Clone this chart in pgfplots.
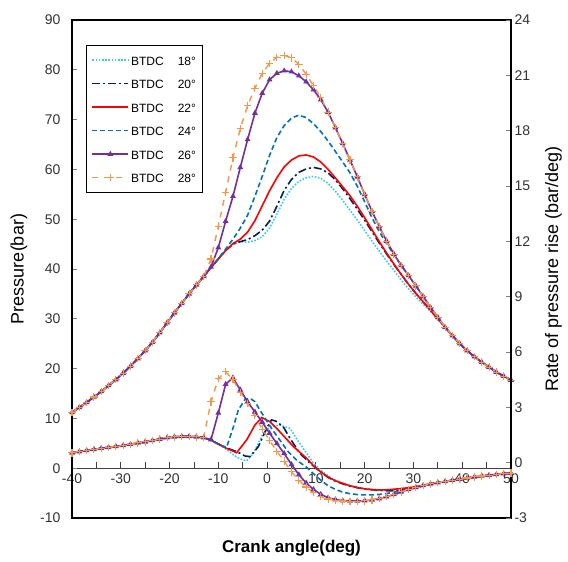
\documentclass[border=0pt]{standalone}
\usepackage{fontspec}
\setmainfont{Liberation Sans}
\usepackage{pgfplots}
\pgfplotsset{compat=1.18}
\definecolor{c18}{RGB}{60,200,245}
\definecolor{c20}{RGB}{0,32,96}
\definecolor{c22}{RGB}{255,0,0}
\definecolor{c24}{RGB}{0,112,192}
\definecolor{c26}{RGB}{112,48,160}
\definecolor{c28}{RGB}{247,150,70}
\newcommand{\legtxt}[1]{\rule[-5pt]{0pt}{17pt}BTDC\hspace{14pt}#1°}
\begin{document}
\begin{tikzpicture}
\pgfplotsset{base/.style={width=439pt,height=498pt,scale only axis,xmin=-40,xmax=50,
  /pgf/number format/assume math mode=true,
  tick label style={font=\fontsize{14}{16}\selectfont, text=black!80}},
  s18/.style={c18, line width=1.6pt, dash pattern=on 1.6pt off 1.6pt},
  s20/.style={c20, line width=1.6pt, dash pattern=on 8pt off 3pt on 2pt off 3pt},
  s22/.style={c22, line width=1.6pt, solid},
  s24/.style={c24, line width=1.6pt, dash pattern=on 5pt off 3pt},
  s26/.style={c26, line width=1.6pt, solid, mark=triangle*, mark size=1.8pt, mark options={solid, fill=c26}},
  s28/.style={c28, line width=1.4pt, dash pattern=on 6pt off 6pt, mark=+, mark size=3.7pt, mark options={solid, line width=1.1pt}},
}
% x axis line at y=0
\begin{axis}[base, ymin=-10, ymax=90, axis x line=middle, axis y line=none,
  xtick={-40,-35,...,50}, xticklabels={-40,,-30,,-20,,-10,,0,,10,,20,,30,,40,,50},
  tick align=inside, major tick length=6pt,
  axis line style={-, line width=0.8pt, black!75},
  xtick style={line width=0.8pt, black!75},
  xticklabel style={yshift=-2pt}]
\end{axis}
% pressure
\begin{axis}[base, name=ax, ymin=-10, ymax=90, ytick={-10,0,...,90}, xtick=\empty,
  ytick pos=left, tick align=inside, major tick length=5pt,
  yticklabel style={xshift=-8pt},
  axis line style={line width=1.6pt}, ytick style={line width=0.8pt},
  ylabel={Pressure(bar)}, xlabel={Crank angle(deg)},
  xlabel style={font=\bfseries\fontsize{17}{20}\selectfont},
  xlabel shift=19pt, ylabel shift=6pt,
  ylabel style={font=\fontsize{18}{20}\selectfont},
  legend style={at={(0.032,0.95)}, anchor=north west, draw=black, line width=1pt,
    font=\fontsize{12}{14}\selectfont, row sep=6pt, inner xsep=5pt, inner ysep=6pt},
  legend cell align=left,
  legend image code/.code={\draw[mark repeat=2,mark phase=2] plot coordinates {(0pt,0pt) (18pt,0pt) (36pt,0pt)};}]
\addplot[s18] coordinates {(-40,11.2) (-38.5,12.2) (-37,13.2) (-35.5,14.3) (-34,15.4) (-32.5,16.6) (-31,17.8) (-29.5,19.1) (-28,20.5) (-26.5,22.0) (-25,23.6) (-23.5,25.3) (-22,27.2) (-20.5,29.2) (-19,31.2) (-17.5,33.1) (-16,35.0) (-14.5,36.8) (-13,38.5)
 (-11.5,40.3) (-10,42.0) (-8.5,43.7) (-7,45.0) (-5.5,45.4) (-4,45.4) (-2.5,45.7) (-1,46.5) (0.5,48.2) (2,51.0) (3.5,54.0) (5,56.2) (6.5,57.6) (8,58.3) (9.5,58.6) (11,58.2) (12.5,57.2) (14,55.6) (15.5,53.8) (17,51.8) (18.5,49.8) (20,47.7) (21.5,45.6) (23,43.6) (24.5,41.6) (26,39.7) (27.5,37.8) (29,36.0) (30.5,34.4) (32,32.9) (33.5,31.5) (35,29.9) (36.5,28.2)
 (38,26.6) (39.5,25.0) (41,23.6) (42.5,22.4) (44,21.3) (45.5,20.3) (47,19.3) (48.5,18.5) (50,17.7)};
\addlegendentry{\legtxt{18}}
\addplot[s20] coordinates {(-40,11.2) (-38.5,12.2) (-37,13.2) (-35.5,14.3) (-34,15.4) (-32.5,16.6) (-31,17.8) (-29.5,19.1) (-28,20.5) (-26.5,22.0) (-25,23.6) (-23.5,25.3) (-22,27.2) (-20.5,29.2) (-19,31.2) (-17.5,33.1) (-16,35.0) (-14.5,36.8) (-13,38.5)
 (-11.5,40.3) (-10,42.0) (-8.5,43.7) (-7,45.0) (-5.5,45.5) (-4,45.9) (-2.5,46.7) (-1,47.8) (0.5,49.6) (2,52.6) (3.5,55.8) (5,58.0) (6.5,59.4) (8,60.1) (9.5,60.4) (11,60.1) (12.5,59.3) (14,57.9) (15.5,56.1) (17,54.1) (18.5,52.0) (20,49.8) (21.5,47.5) (23,45.2) (24.5,43.0) (26,40.9) (27.5,38.9) (29,36.9) (30.5,35.1) (32,33.4) (33.5,31.7) (35,30.0) (36.5,28.3)
 (38,26.6) (39.5,25.0) (41,23.6) (42.5,22.4) (44,21.3) (45.5,20.3) (47,19.3) (48.5,18.5) (50,17.7)};
\addlegendentry{\legtxt{20}}
\addplot[s22] coordinates {(-40,11.2) (-38.5,12.2) (-37,13.2) (-35.5,14.3) (-34,15.4) (-32.5,16.6) (-31,17.8) (-29.5,19.1) (-28,20.5) (-26.5,22.0) (-25,23.6) (-23.5,25.3) (-22,27.2) (-20.5,29.2) (-19,31.2) (-17.5,33.1) (-16,35.0) (-14.5,36.8) (-13,38.5)
 (-11.5,40.3) (-10,42.0) (-8.5,43.7) (-7,45.1) (-5.5,46.0) (-4,47.4) (-2.5,49.7) (-1,52.7) (0.5,55.7) (2,58.3) (3.5,60.5) (5,61.9) (6.5,62.7) (8,62.9) (9.5,62.5) (11,61.5) (12.5,60.0) (14,58.3) (15.5,56.5) (17,54.7) (18.5,52.6) (20,50.3) (21.5,47.9) (23,45.5) (24.5,43.2) (26,41.0) (27.5,38.9) (29,36.9) (30.5,35.1) (32,33.4) (33.5,31.7) (35,30.0) (36.5,28.3)
 (38,26.6) (39.5,25.0) (41,23.6) (42.5,22.4) (44,21.3) (45.5,20.3) (47,19.3) (48.5,18.5) (50,17.7)};
\addlegendentry{\legtxt{22}}
\addplot[s24] coordinates {(-40,11.2) (-38.5,12.2) (-37,13.2) (-35.5,14.3) (-34,15.4) (-32.5,16.6) (-31,17.8) (-29.5,19.1) (-28,20.5) (-26.5,22.0) (-25,23.6) (-23.5,25.3) (-22,27.2) (-20.5,29.2) (-19,31.2) (-17.5,33.1) (-16,35.0) (-14.5,36.8) (-13,38.5)
 (-11.5,40.3) (-10,42.1) (-8.5,44.0) (-7,46.0) (-5.5,48.2) (-4,50.8) (-2.5,54.6) (-1,58.6) (0.5,62.8) (2,66.4) (3.5,68.8) (5,70.3) (6.5,70.9) (8,70.4) (9.5,69.2) (11,67.6) (12.5,65.7) (14,63.6) (15.5,61.5) (17,59.3) (18.5,56.6) (20,53.5) (21.5,50.3) (23,47.5) (24.5,45.1) (26,42.9) (27.5,40.7)
 (29,38.7) (30.5,36.6) (32,34.5) (33.5,32.3) (35,30.3) (36.5,28.3) (38,26.6) (39.5,25.0) (41,23.6) (42.5,22.4) (44,21.3) (45.5,20.3) (47,19.3) (48.5,18.5) (50,17.7)};
\addlegendentry{\legtxt{24}}
\addplot[s26] coordinates {(-40,11.2) (-38.5,12.2) (-37,13.2) (-35.5,14.3) (-34,15.4) (-32.5,16.6) (-31,17.8) (-29.5,19.1) (-28,20.5) (-26.5,22.0) (-25,23.6) (-23.5,25.3) (-22,27.2) (-20.5,29.2) (-19,31.2) (-17.5,33.1) (-16,35.0) (-14.5,36.8) (-13,38.5)
 (-11.5,40.4) (-10,44.3) (-8.5,49.6) (-7,54.6) (-5.5,60.4) (-4,66.0) (-2.5,71.3) (-1,75.3) (0.5,78.0) (2,79.3) (3.5,79.8) (5,79.6) (6.5,78.8) (8,77.6) (9.5,76.0) (11,74.0)
 (12.5,71.5) (14,68.4) (15.5,65.2) (17,61.9) (18.5,58.5) (20,55.0) (21.5,51.6) (23,48.5) (24.5,45.6) (26,43.0) (27.5,40.7) (29,38.7) (30.5,36.6) (32,34.5) (33.5,32.3) (35,30.3) (36.5,28.3) (38,26.6) (39.5,25.0) (41,23.6) (42.5,22.4) (44,21.3) (45.5,20.3) (47,19.3) (48.5,18.5) (50,17.7)};
\addlegendentry{\legtxt{26}}
\addplot[s28] coordinates {(-40,11.2) (-38.5,12.2) (-37,13.2) (-35.5,14.3) (-34,15.4) (-32.5,16.6) (-31,17.8) (-29.5,19.1) (-28,20.5) (-26.5,22.0) (-25,23.6) (-23.5,25.3) (-22,27.2) (-20.5,29.2) (-19,31.2) (-17.5,33.1) (-16,35.0) (-14.5,36.8) (-13,38.5)
 (-11.5,42.0) (-10,48.6) (-8.5,55.4) (-7,62.3) (-5.5,68.2) (-4,72.8) (-2.5,76.3) (-1,79.3) (0.5,81.3) (2,82.5) (3.5,82.9) (5,82.4) (6.5,81.1) (8,79.1) (9.5,76.8) (11,74.4)
 (12.5,71.5) (14,68.4) (15.5,65.2) (17,61.9) (18.5,58.5) (20,55.0) (21.5,51.6) (23,48.5) (24.5,45.6) (26,43.0) (27.5,40.7) (29,38.7) (30.5,36.6) (32,34.5) (33.5,32.3) (35,30.3) (36.5,28.3) (38,26.6) (39.5,25.0) (41,23.6) (42.5,22.4) (44,21.3) (45.5,20.3) (47,19.3) (48.5,18.5) (50,17.7)};
\addlegendentry{\legtxt{28}}
\end{axis}
% rate of pressure rise
\begin{axis}[base, ymin=-3, ymax=24, ytick={-3,0,...,24}, axis y line*=right, axis x line=none,
  tick align=inside, major tick length=5pt,
  axis line style={line width=1.6pt}, ytick style={line width=0.8pt},
  ylabel={Rate of pressure rise (bar/deg)}, ylabel shift=8pt,
  ylabel style={font=\fontsize{18}{20}\selectfont}]
\addplot[s18] coordinates {(-40,0.53) (-38.5,0.6) (-37,0.66) (-35.5,0.72) (-34,0.78) (-32.5,0.83) (-31,0.88) (-29.5,0.93) (-28,1.0) (-26.5,1.07) (-25,1.13) (-23.5,1.2) (-22,1.28) (-20.5,1.35) (-19,1.4) (-17.5,1.42) (-16,1.42) (-14.5,1.4) (-13,1.36)
 (-11.5,1.22) (-9.7,0.96) (-8.5,0.75) (-6.9,0.42) (-5.5,0.2) (-4.2,0.1) (-2.8,0.51) (-0.8,1.59) (0.6,1.95) (2.6,2.04) (4.7,1.86) (6.0,1.32) (8.1,0.51) (9.5,-0.03) (11,-0.4) (12.5,-0.72) (14,-0.95) (15.5,-1.12) (17,-1.25) (18.5,-1.34) (20,-1.4) (21.5,-1.45) (23,-1.48) (24.5,-1.5) (26,-1.5) (27.5,-1.48) (29,-1.44) (30.5,-1.36) (32,-1.26) (33.5,-1.16) (35,-1.08) (36.5,-1.02)
 (38,-0.95) (39.5,-0.89) (41,-0.83) (42.5,-0.77) (44,-0.72) (45.5,-0.68) (47,-0.64) (48.5,-0.6) (50,-0.57)};
\addplot[s20] coordinates {(-40,0.53) (-38.5,0.6) (-37,0.66) (-35.5,0.72) (-34,0.78) (-32.5,0.83) (-31,0.88) (-29.5,0.93) (-28,1.0) (-26.5,1.07) (-25,1.13) (-23.5,1.2) (-22,1.28) (-20.5,1.35) (-19,1.4) (-17.5,1.42) (-16,1.42) (-14.5,1.4) (-13,1.36)
 (-11.5,1.22) (-9.7,0.98) (-8.5,0.82) (-6.25,0.6) (-4.5,0.36) (-3.5,0.33) (-1.8,0.87) (-0.1,1.86) (0.9,2.32) (1.8,2.25) (3.3,1.95) (4.7,1.32) (6.7,0.51) (8.8,-0.03) (9.5,-0.18) (11,-0.5) (12.5,-0.8) (14,-1.0) (15.5,-1.15) (17,-1.27) (18.5,-1.36) (20,-1.42) (21.5,-1.47) (23,-1.5) (24.5,-1.52) (26,-1.52) (27.5,-1.49) (29,-1.45) (30.5,-1.36) (32,-1.26) (33.5,-1.16) (35,-1.08)
 (36.5,-1.02) (38,-0.95) (39.5,-0.89) (41,-0.83) (42.5,-0.77) (44,-0.72) (45.5,-0.68) (47,-0.64) (48.5,-0.6) (50,-0.57)};
\addplot[s22] coordinates {(-40,0.53) (-38.5,0.6) (-37,0.66) (-35.5,0.72) (-34,0.78) (-32.5,0.83) (-31,0.88) (-29.5,0.93) (-28,1.0) (-26.5,1.07) (-25,1.13) (-23.5,1.2) (-22,1.28) (-20.5,1.35) (-19,1.4) (-17.5,1.42) (-16,1.42) (-14.5,1.4) (-13,1.36)
 (-11.5,1.22) (-9.7,0.96) (-8.5,0.8) (-6.25,0.54) (-4.2,1.23) (-2.5,2.04) (-1.1,2.45) (0.6,2.22) (2.6,1.68) (5.4,0.87) (8.1,0.24) (9.8,-0.25) (11,-0.5) (12.5,-0.78) (14,-0.98) (15.5,-1.12) (17,-1.25) (18.5,-1.35) (20,-1.42) (21.5,-1.46) (23,-1.48) (24.5,-1.47) (26,-1.44) (27.5,-1.4) (29,-1.36) (30.5,-1.3) (32,-1.22) (33.5,-1.15) (35,-1.08) (36.5,-1.02) (38,-0.97) (39.5,-0.92) (41,-0.86) (42.5,-0.8) (44,-0.74) (45.5,-0.68) (47,-0.63) (48.5,-0.58) (50,-0.55)};
\addplot[s24] coordinates {(-40,0.53) (-38.5,0.6) (-37,0.66) (-35.5,0.72) (-34,0.78) (-32.5,0.83) (-31,0.88) (-29.5,0.93) (-28,1.0) (-26.5,1.07) (-25,1.13) (-23.5,1.2) (-22,1.28) (-20.5,1.35) (-19,1.4) (-17.5,1.42) (-16,1.42) (-14.5,1.4) (-13,1.36)
 (-11.5,1.2) (-10,1.0) (-8.3,0.83) (-6.9,1.95) (-5.9,2.86) (-4.5,3.44) (-3.5,3.49) (-2.5,3.31) (-1.5,2.86) (-0.4,2.41) (0.9,1.86) (2.6,1.23) (4.3,0.6) (6.0,0.15) (8.1,-0.25) (9.5,-0.6) (11,-0.95) (12.5,-1.25) (14,-1.45) (15.5,-1.6) (17,-1.68) (18.5,-1.73) (20,-1.75) (21.5,-1.75) (23,-1.72) (24.5,-1.67) (26,-1.6) (27.5,-1.52) (29,-1.45)
 (30.5,-1.34) (32,-1.24) (33.5,-1.15) (35,-1.08) (36.5,-1.02) (38,-0.95) (39.5,-0.89) (41,-0.83) (42.5,-0.77) (44,-0.72) (45.5,-0.68) (47,-0.64) (48.5,-0.6) (50,-0.57)};
\addplot[s26] coordinates {(-40,0.53) (-38.5,0.6) (-37,0.66) (-35.5,0.72) (-34,0.78) (-32.5,0.83) (-31,0.88) (-29.5,0.93) (-28,1.0) (-26.5,1.07) (-25,1.13) (-23.5,1.2) (-22,1.28) (-20.5,1.35) (-19,1.4) (-17.5,1.42) (-16,1.42) (-14.5,1.4) (-13,1.36)
 (-11.5,1.25) (-10,2.7) (-8.5,4.25) (-7,4.6) (-5.5,3.95) (-4,3.3) (-2.5,2.75) (-1,2.2) (0.5,1.6) (2,1.04) (3.5,0.5) (5,-0.1) (6.5,-0.65) (8,-1.1) (9.5,-1.45) (11,-1.72) (12.5,-1.9) (14,-2.0) (15.5,-2.06) (17,-2.08) (18.5,-2.08) (20,-2.06) (21.5,-2.02) (23,-1.95) (24.5,-1.85) (26,-1.72) (27.5,-1.58) (29,-1.45)
 (30.5,-1.34) (32,-1.24) (33.5,-1.15) (35,-1.08) (36.5,-1.02) (38,-0.95) (39.5,-0.89) (41,-0.83) (42.5,-0.77) (44,-0.72) (45.5,-0.68) (47,-0.64) (48.5,-0.6) (50,-0.57)};
\addplot[s28] coordinates {(-40,0.53) (-38.5,0.6) (-37,0.66) (-35.5,0.72) (-34,0.78) (-32.5,0.83) (-31,0.88) (-29.5,0.93) (-28,1.0) (-26.5,1.07) (-25,1.13) (-23.5,1.2) (-22,1.28) (-20.5,1.35) (-19,1.4) (-17.5,1.42) (-16,1.42) (-14.5,1.4) (-13,1.38)
 (-11.5,3.3) (-10,4.55) (-8.5,4.94) (-7,4.5) (-5.5,3.82) (-4,3.2) (-2.5,2.55) (-1,1.82) (0.5,1.2) (2,0.62) (3.5,0.08) (5,-0.5) (6.5,-0.95) (8,-1.32) (9.5,-1.62) (11,-1.84) (12.5,-1.97) (14,-2.04) (15.5,-2.08) (17,-2.1) (18.5,-2.1) (20,-2.07) (21.5,-2.02) (23,-1.95) (24.5,-1.85) (26,-1.72) (27.5,-1.58) (29,-1.45)
 (30.5,-1.34) (32,-1.24) (33.5,-1.15) (35,-1.08) (36.5,-1.02) (38,-0.95) (39.5,-0.89) (41,-0.83) (42.5,-0.77) (44,-0.72) (45.5,-0.68) (47,-0.64) (48.5,-0.6) (50,-0.57)};
\end{axis}
\pgfresetboundingbox
\path ([shift={(-72pt,-43pt)}]ax.south west) rectangle ([shift={(57pt,20pt)}]ax.north east);
\end{tikzpicture}
\end{document}
